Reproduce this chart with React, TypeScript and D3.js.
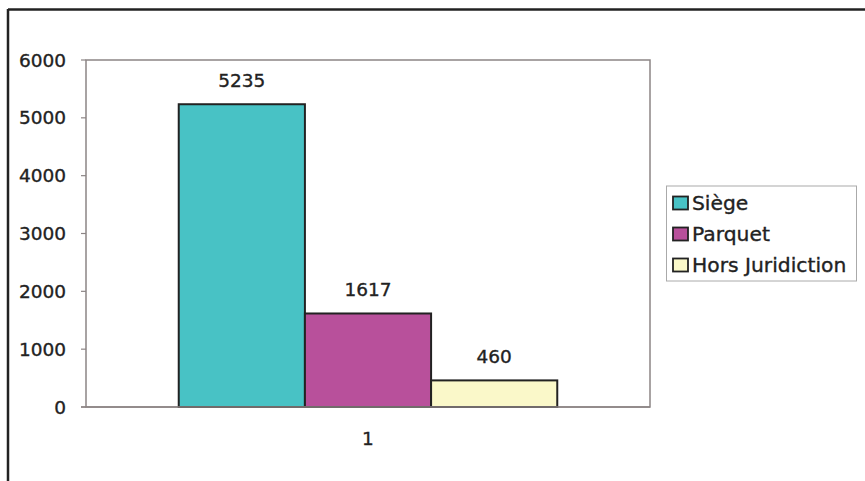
import * as d3 from "d3";

const series = ["Siège", "Parquet", "Hors Juridiction"];
const values = [5235, 1617, 460];
const categories = ["1"];
const yTicks = [0, 1000, 2000, 3000, 4000, 5000, 6000];
const colors = ["#48c2c5", "#b8509b", "#faf8c9"];

const W = 865;
const H = 481;
const plot = { left: 86, right: 650, top: 60, bottom: 407 };
const FONT = "'DejaVu Sans', Verdana, sans-serif";

export default function App() {
  const y = d3.scaleLinear().domain([0, 6000]).range([plot.bottom, plot.top]);
  const xCat = d3
    .scaleBand()
    .domain(categories)
    .range([plot.left, plot.right])
    .paddingInner(0)
    .paddingOuter(0.245);
  const xSer = d3
    .scaleBand()
    .domain(series)
    .range([0, xCat.bandwidth()])
    .padding(0);

  const legendY = d3.scalePoint().domain(series).range([203, 265]);
  const textStyle = { fill: "#222", stroke: "#222", strokeWidth: 0.35 };

  return (
    <svg
      width={W}
      height={H}
      style={{ position: "absolute", left: 0, top: 0, background: "#fff" }}
      fontFamily={FONT}
    >
      {/* outer frame */}
      <line x1={8} x2={W} y1={9.5} y2={9.5} stroke="#222" strokeWidth={2.5} />
      <line x1={8} x2={8} y1={9} y2={H} stroke="#222" strokeWidth={2.5} />

      {/* plot area */}
      <rect
        x={plot.left}
        y={plot.top}
        width={plot.right - plot.left}
        height={plot.bottom - plot.top}
        fill="#fff"
        stroke="#8c8585"
        strokeWidth={1.5}
      />

      {/* y ticks */}
      {yTicks.map((t) => (
        <g key={t}>
          <line x1={plot.left - 5} x2={plot.left} y1={y(t)} y2={y(t)} stroke="#8c8585" strokeWidth={1.2} />
          <text x={66} y={y(t)} dy="0.36em" textAnchor="end" fontSize={18.5} {...textStyle}>
            {t}
          </text>
        </g>
      ))}

      {/* bars */}
      {categories.map((c) => (
        <g key={c} transform={`translate(${xCat(c)},0)`}>
          {series.map((s, i) => (
            <g key={s}>
              <rect
                x={xSer(s)}
                y={y(values[i])}
                width={xSer.bandwidth()}
                height={y(0) - y(values[i])}
                fill={colors[i]}
                stroke="#222"
                strokeWidth={2}
              />
              <text
                x={(xSer(s) as number) + xSer.bandwidth() / 2}
                y={y(values[i]) - 17.5}
                textAnchor="middle"
                fontSize={18.5}
                {...textStyle}
              >
                {values[i]}
              </text>
            </g>
          ))}
          <text
            x={xCat.bandwidth() / 2}
            y={plot.bottom + 38}
            textAnchor="middle"
            fontSize={18.5}
            {...textStyle}
          >
            {c}
          </text>
        </g>
      ))}
      {/* x axis baseline */}
      <line x1={plot.left - 5} x2={plot.right} y1={plot.bottom} y2={plot.bottom} stroke="#8c8585" strokeWidth={1.5} />

      {/* legend */}
      <rect x={666.5} y={186} width={190} height={95} fill="#fff" stroke="#aaa" strokeWidth={1} />
      {series.map((s, i) => (
        <g key={s} transform={`translate(673,${legendY(s)})`}>
          <rect x={0} y={-6.5} width={15} height={13} fill={colors[i]} stroke="#222" strokeWidth={1.8} />
          <text x={19} y={0} dy="0.36em" fontSize={20.3} {...textStyle}>
            {s}
          </text>
        </g>
      ))}
    </svg>
  );
}
